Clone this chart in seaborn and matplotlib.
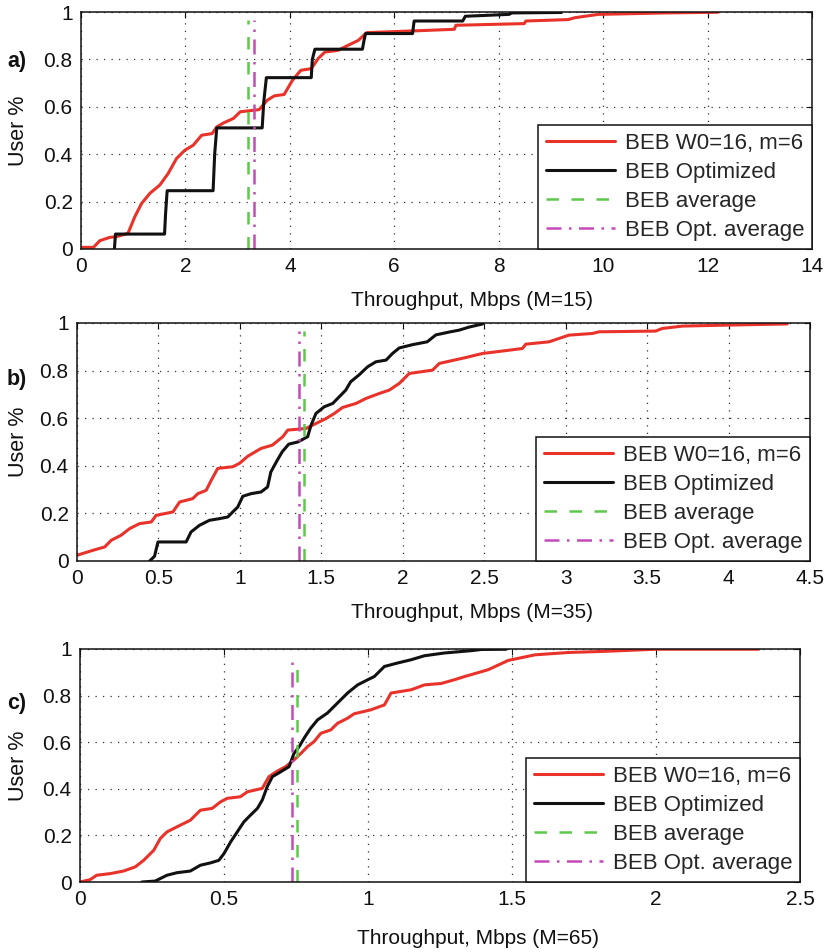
import matplotlib
matplotlib.use("Agg")
import matplotlib.pyplot as plt
import seaborn as sns

# ---------------- data ----------------
# Panel a (M=15)
a_red_x = [0, 0.24, 0.36, 0.55, 0.68, 0.90, 1.03, 1.16, 1.32, 1.51, 1.67, 1.83, 1.99, 2.15, 2.31,
           2.51, 2.60, 2.73, 2.92, 3.05, 3.41, 3.57, 3.70, 3.89, 4.05, 4.21, 4.41, 4.54, 4.67, 4.92,
           5.12, 5.31, 5.47, 6.34, 7.15, 7.18, 8.49, 8.52, 9.33, 9.46, 9.91, 11.18, 12.2]
a_red_y = [0.007, 0.007, 0.035, 0.049, 0.052, 0.066, 0.136, 0.192, 0.235, 0.27, 0.319, 0.382, 0.417,
           0.438, 0.48, 0.487, 0.515, 0.532, 0.551, 0.579, 0.588, 0.628, 0.646, 0.652, 0.712, 0.754,
           0.761, 0.803, 0.831, 0.838, 0.86, 0.88, 0.913, 0.92, 0.927, 0.944, 0.951, 0.962, 0.968,
           0.976, 0.99, 0.996, 0.999]
a_blk_x = [0.64, 0.66, 1.60, 1.62, 1.65, 2.53, 2.56, 2.60, 3.47, 3.50, 3.55, 4.41, 4.43, 4.48, 5.39,
           5.42, 5.45, 6.35, 6.38, 7.31, 7.36, 8.2, 8.25, 9.2]
a_blk_y = [0.0, 0.063, 0.063, 0.15, 0.246, 0.246, 0.40, 0.511, 0.511, 0.62, 0.723, 0.723, 0.80, 0.843,
           0.843, 0.88, 0.909, 0.909, 0.962, 0.962, 0.982, 0.99, 0.996, 0.998]
a_avg = 3.20
a_opt_avg = 3.31

# Panel b (M=35)
b_red_x = [0, 0.098, 0.17, 0.21, 0.27, 0.323, 0.384, 0.456, 0.486, 0.589, 0.63, 0.71, 0.742, 0.793,
           0.824, 0.864, 0.956, 0.997, 1.048, 1.13, 1.20, 1.263, 1.294, 1.406, 1.447, 1.53, 1.58,
           1.63, 1.713, 1.774, 1.856, 1.917, 1.978, 2.04, 2.183, 2.224, 2.387, 2.49, 2.633, 2.735,
           2.755, 2.898, 3.02, 3.164, 3.205, 3.552, 3.593, 3.716, 3.981, 4.36]
b_red_y = [0.024, 0.045, 0.059, 0.087, 0.108, 0.136, 0.157, 0.164, 0.192, 0.206, 0.248, 0.262, 0.283,
           0.297, 0.339, 0.389, 0.396, 0.41, 0.44, 0.473, 0.487, 0.522, 0.55, 0.557, 0.571, 0.599,
           0.62, 0.645, 0.662, 0.683, 0.704, 0.718, 0.746, 0.788, 0.802, 0.83, 0.855, 0.872, 0.884,
           0.893, 0.911, 0.921, 0.949, 0.956, 0.963, 0.966, 0.977, 0.987, 0.991, 0.996]
b_blk_x = [0.446, 0.476, 0.497, 0.67, 0.70, 0.752, 0.813, 0.875, 0.926, 0.956, 0.987, 1.018, 1.069,
           1.13, 1.17, 1.19, 1.23, 1.26, 1.30, 1.355, 1.416, 1.437, 1.467, 1.518, 1.57, 1.61, 1.65,
           1.68, 1.73, 1.784, 1.835, 1.897, 1.937, 1.978, 2.06, 2.15, 2.203, 2.285, 2.346, 2.408, 2.49]
b_blk_y = [0.0, 0.02, 0.08, 0.08, 0.122, 0.15, 0.171, 0.178, 0.185, 0.206, 0.227, 0.272, 0.283, 0.29,
           0.311, 0.374, 0.424, 0.459, 0.491, 0.50, 0.522, 0.571, 0.62, 0.648, 0.662, 0.69, 0.718,
           0.753, 0.781, 0.816, 0.837, 0.844, 0.872, 0.895, 0.909, 0.921, 0.95, 0.962, 0.97, 0.983, 0.996]
b_avg = 1.392
b_opt_avg = 1.365

# Panel c (M=65)
c_red_x = [0, 0.035, 0.058, 0.105, 0.151, 0.192, 0.221, 0.256, 0.279, 0.302, 0.337, 0.383, 0.418,
           0.459, 0.488, 0.511, 0.557, 0.581, 0.633, 0.656, 0.685, 0.714, 0.743, 0.767, 0.79, 0.813,
           0.836, 0.871, 0.894, 0.929, 0.952, 1.01, 1.057, 1.08, 1.15, 1.196, 1.254, 1.30, 1.336,
           1.417, 1.487, 1.58, 1.696, 1.824, 1.998, 2.357]
c_red_y = [0.0, 0.01, 0.029, 0.036, 0.047, 0.065, 0.093, 0.136, 0.187, 0.215, 0.237, 0.265, 0.308,
           0.316, 0.344, 0.359, 0.366, 0.387, 0.402, 0.452, 0.476, 0.495, 0.524, 0.552, 0.581, 0.603,
           0.638, 0.653, 0.681, 0.703, 0.722, 0.739, 0.76, 0.811, 0.825, 0.846, 0.852, 0.868, 0.882,
           0.911, 0.951, 0.975, 0.985, 0.99, 0.999, 0.999]
c_blk_x = [0.215, 0.261, 0.302, 0.337, 0.383, 0.418, 0.453, 0.482, 0.50, 0.523, 0.546, 0.569, 0.592,
           0.616, 0.633, 0.65, 0.668, 0.697, 0.726, 0.743, 0.761, 0.778, 0.801, 0.825, 0.859, 0.894,
           0.929, 0.964, 0.999, 1.022, 1.057, 1.103, 1.15, 1.196, 1.266, 1.36, 1.394, 1.48]
c_blk_y = [0.0, 0.004, 0.029, 0.04, 0.047, 0.072, 0.082, 0.093, 0.122, 0.172, 0.215, 0.258, 0.287,
           0.316, 0.352, 0.409, 0.452, 0.473, 0.495, 0.552, 0.581, 0.617, 0.66, 0.696, 0.725, 0.768,
           0.811, 0.846, 0.868, 0.882, 0.925, 0.94, 0.954, 0.971, 0.983, 0.993, 0.998, 0.999]
c_avg = 0.753
c_opt_avg = 0.735

avg_line_top = 0.965

series_labels = ["BEB W0=16, m=6", "BEB Optimized", "BEB average", "BEB Opt. average"]
panel_tags = ["a)", "b)", "c)"]
x_labels = ["Throughput, Mbps (M=15)", "Throughput, Mbps (M=35)", "Throughput, Mbps (M=65)"]
y_label = "User %"
y_ticks = [0, 0.2, 0.4, 0.6, 0.8, 1.0]
y_ticklabels = ["0", "0.2", "0.4", "0.6", "0.8", "1"]
a_xticks = [0, 2, 4, 6, 8, 10, 12, 14]
a_xticklabels = ["0", "2", "4", "6", "8", "10", "12", "14"]
b_xticks = [0, 0.5, 1, 1.5, 2, 2.5, 3, 3.5, 4, 4.5]
b_xticklabels = ["0", "0.5", "1", "1.5", "2", "2.5", "3", "3.5", "4", "4.5"]
c_xticks = [0, 0.5, 1, 1.5, 2, 2.5]
c_xticklabels = ["0", "0.5", "1", "1.5", "2", "2.5"]

# ---------------- style ----------------
sns.set_theme(style="white")
plt.rcParams["font.family"] = ["Liberation Sans", "DejaVu Sans"]

RED = "#e8322a"
BLACK = "#111111"
GREEN = "#5ec84c"
MAGENTA = "#c44ab8"

W, H = 826, 952
fig = plt.figure(figsize=(W / 100, H / 100), dpi=100)


def px_axes(l, r, t, b):
    return fig.add_axes([l / W, 1 - b / H, (r - l) / W, (b - t) / H])


panels = [
    dict(box=(81, 812, 12, 249), xlim=(0, 14), xt=a_xticks, xtl=a_xticklabels,
         red=(a_red_x, a_red_y), blk=(a_blk_x, a_blk_y), avg=a_avg, opt=a_opt_avg,
         tag_y=62, xl_top=291, xl_cx=472),
    dict(box=(77, 810, 323, 561), xlim=(0, 4.5), xt=b_xticks, xtl=b_xticklabels,
         red=(b_red_x, b_red_y), blk=(b_blk_x, b_blk_y), avg=b_avg, opt=b_opt_avg,
         tag_y=380, xl_top=603, xl_cx=472),
    dict(box=(80, 800, 649, 882), xlim=(0, 2.5), xt=c_xticks, xtl=c_xticklabels,
         red=(c_red_x, c_red_y), blk=(c_blk_x, c_blk_y), avg=c_avg, opt=c_opt_avg,
         tag_y=703, xl_top=929, xl_cx=478),
]

for i, p in enumerate(panels):
    l, r, t, b = p["box"]
    ax = px_axes(l, r, t, b)
    sns.lineplot(x=p["red"][0], y=p["red"][1], sort=False, estimator=None, color=RED,
                 lw=2.2, label=series_labels[0], ax=ax)
    sns.lineplot(x=p["blk"][0], y=p["blk"][1], sort=False, estimator=None, color=BLACK,
                 lw=2.2, label=series_labels[1], ax=ax)
    sns.lineplot(x=[p["avg"], p["avg"]], y=[0, avg_line_top], sort=False, estimator=None,
                 color=GREEN, lw=1.8, linestyle=(0, (5, 5)), label=series_labels[2], ax=ax)
    sns.lineplot(x=[p["opt"], p["opt"]], y=[0, avg_line_top], sort=False, estimator=None,
                 color=MAGENTA, lw=1.8, linestyle=(0, (6, 3, 1, 3)), label=series_labels[3], ax=ax)

    ax.set_xlim(*p["xlim"])
    ax.set_ylim(0, 1)
    ax.set_xticks(p["xt"])
    ax.set_xticklabels(p["xtl"])
    ax.set_yticks(y_ticks)
    ax.set_yticklabels(y_ticklabels)
    ax.tick_params(direction="in", length=4, width=0.8, top=True, right=True,
                   labelsize=15, pad=6, colors="#111111")
    ax.grid(True, linestyle=(0, (1, 5)), linewidth=0.9, color="#333333")
    for s in ax.spines.values():
        s.set_color("#111111")
        s.set_linewidth(1.1)

    ax.set_xlabel(x_labels[i], fontsize=15, color="#111111")
    ax.xaxis.set_label_coords((p["xl_cx"] - l) / (r - l), -(p["xl_top"] - b) / (b - t))
    ax.set_ylabel(y_label, fontsize=15.5, color="#111111")
    ax.yaxis.set_label_coords((29 - l) / (r - l), 0.5)

    leg = ax.legend(loc="lower right", borderaxespad=0, fontsize=16, frameon=True,
                    fancybox=False, handlelength=3.1, handletextpad=0.45, labelspacing=0.36,
                    borderpad=0.35)
    leg.get_frame().set_edgecolor("#111111")
    leg.get_frame().set_linewidth(1.1)
    leg.get_frame().set_alpha(1)

    fig.text(17 / W, 1 - p["tag_y"] / H, panel_tags[i], fontsize=15.5, fontweight="bold",
             ha="center", va="center", color="#111111")

fig.savefig("out.png", dpi=100)
